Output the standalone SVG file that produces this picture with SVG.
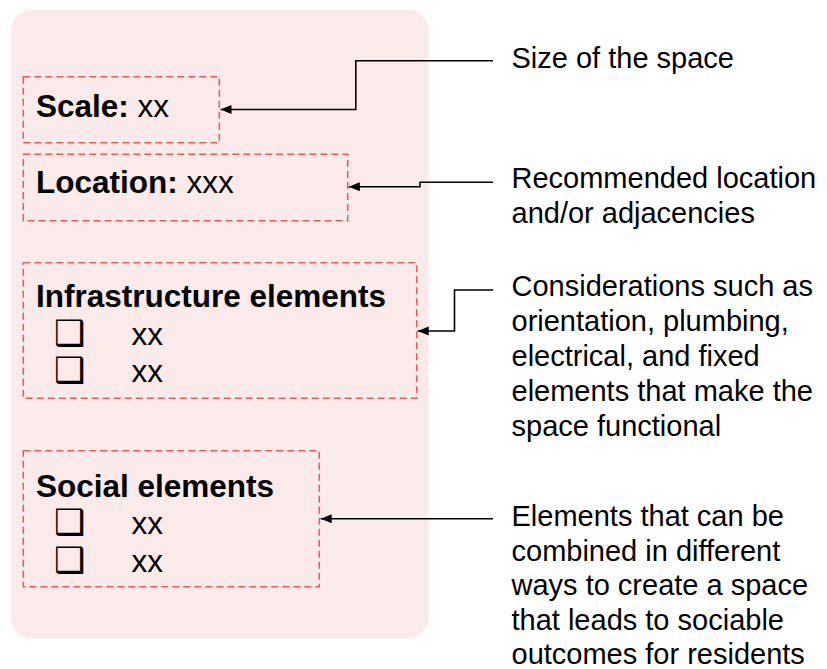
<svg xmlns="http://www.w3.org/2000/svg" width="827" height="669" viewBox="0 0 827 669">
<style>
.box{fill:none;stroke:#e65c5a;stroke-width:1.5;stroke-dasharray:7 4}
.b{font-family:"Liberation Sans",Arial,sans-serif;font-weight:bold;font-size:31.5px;fill:#000}
.r{font-family:"Liberation Sans",Arial,sans-serif;font-size:31.5px;fill:#000}
.cb{font-family:"DejaVu Sans",sans-serif;font-size:35px;fill:#000}
.note{font-family:"Liberation Sans",Arial,sans-serif;font-size:29px;fill:#000}
.conn{fill:none;stroke:#000;stroke-width:1.6}
</style>
<defs>
<marker id="ah" markerUnits="userSpaceOnUse" markerWidth="12" markerHeight="10" refX="11" refY="4.5" orient="auto">
<path d="M0,0 L11,4.5 L0,9 Z" fill="#000"/>
</marker>
</defs>
<rect id="panel" x="11" y="9.5" width="417.5" height="629" rx="21" fill="#faebea"/>
<g id="scale">
<rect class="box" x="23.3" y="76.7" width="196" height="66"/>
<text x="36" y="116.5"><tspan class="b">Scale:</tspan><tspan class="r"> xx</tspan></text>
</g>
<g id="location">
<rect class="box" x="23.3" y="154.3" width="324.4" height="66.4"/>
<text x="36" y="192.7"><tspan class="b">Location:</tspan><tspan class="r"> xxx</tspan></text>
</g>
<g id="infrastructure">
<rect class="box" x="23.3" y="262.7" width="393.4" height="135.6"/>
<text class="b" x="36" y="306.7">Infrastructure elements</text>
<text class="cb" x="54" y="345">❑</text>
<text class="r" x="131.5" y="345">xx</text>
<text class="cb" x="54" y="382">❑</text>
<text class="r" x="131.5" y="382">xx</text>
</g>
<g id="social">
<rect class="box" x="23.3" y="450.7" width="296" height="136"/>
<text class="b" x="36" y="496.7">Social elements</text>
<text class="cb" x="54" y="534.3">❑</text>
<text class="r" x="131.5" y="534.3">xx</text>
<text class="cb" x="54" y="571.7">❑</text>
<text class="r" x="131.5" y="571.7">xx</text>
</g>
<g id="note-scale">
<text class="note" x="511.5" y="68">Size of the space</text>
</g>
<g id="note-location">
<text class="note" x="511.5" y="188">Recommended location</text>
<text class="note" x="511.5" y="223">and/or adjacencies</text>
</g>
<g id="note-infrastructure">
<text class="note" x="511.5" y="296">Considerations such as</text>
<text class="note" x="511.5" y="331">orientation, plumbing,</text>
<text class="note" x="511.5" y="366">electrical, and fixed</text>
<text class="note" x="511.5" y="401">elements that make the</text>
<text class="note" x="511.5" y="436">space functional</text>
</g>
<g id="note-social">
<text class="note" x="511.5" y="526">Elements that can be</text>
<text class="note" x="511.5" y="560.5">combined in different</text>
<text class="note" x="511.5" y="595">ways to create a space</text>
<text class="note" x="511.5" y="629.5">that leads to sociable</text>
<text class="note" x="511.5" y="664">outcomes for residents</text>
</g>
<g id="connectors">
<path class="conn" d="M493,60.7 H355.8 V109.5 H220.5" marker-end="url(#ah)"/>
<path class="conn" d="M493,182.3 H420 V186.7 H348.8" marker-end="url(#ah)"/>
<path class="conn" d="M493,290 H454.5 V331 H417.7" marker-end="url(#ah)"/>
<path class="conn" d="M493,518.7 H320.7" marker-end="url(#ah)"/>
</g>
</svg>
